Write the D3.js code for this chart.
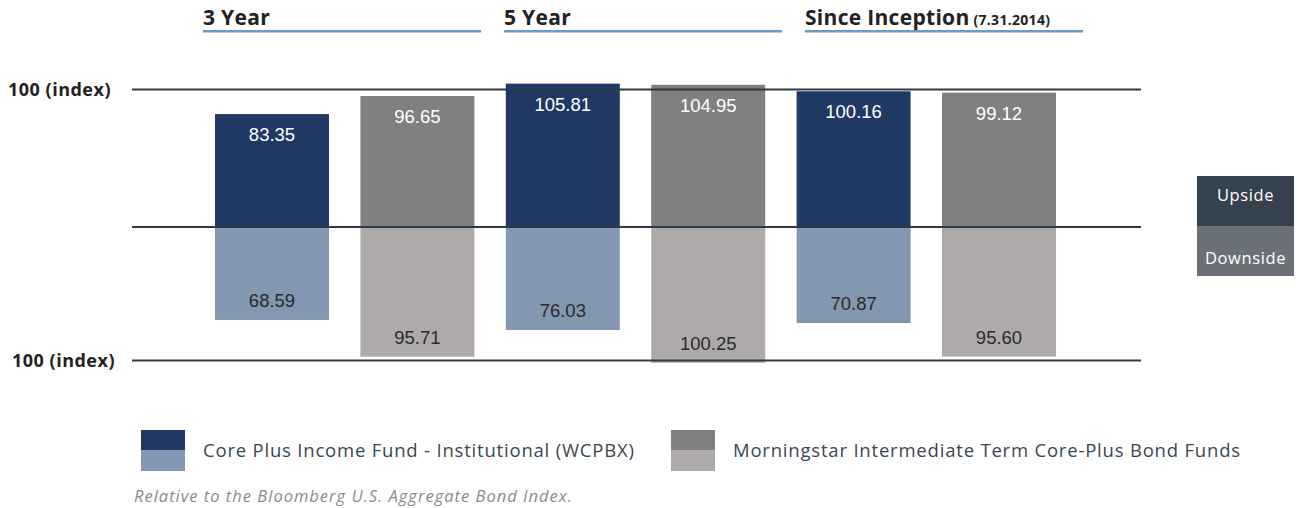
<!DOCTYPE html>
<html>
<head>
<meta charset="utf-8">
<script src="https://cdn.jsdelivr.net/npm/d3@7"></script>
<style>
  body { margin: 0; background: #fff; }
  svg { display: block; }
</style>
</head>
<body>
<svg id="chart" width="1298" height="508"></svg>
<script>
// periods and capture ratios
const periods = ['3 Year', '5 Year', 'Since Inception'];
const periodNotes = ['', '', '(7.31.2014)'];
const fundUp = [83.35, 105.81, 100.16];
const fundDown = [68.59, 76.03, 70.87];
const peerUp = [96.65, 104.95, 99.12];
const peerDown = [95.71, 100.25, 95.60];
const seriesNames = ['Core Plus Income Fund - Institutional (WCPBX)', 'Morningstar Intermediate Term Core-Plus Bond Funds'];
const refLabel = '100 (index)';

const colors = {
    fundUp: '#203864',
    fundDown: '#8497b0',
    peerUp: '#808080',
    peerDown: '#aeaaaa'
};

const svg = d3.select('#chart');
const font = '"Open Sans", Lato, sans-serif';

// one bar slot per fund/peer in each period
const bars = [];
periods.forEach((p, i) => {
    bars.push({ key: p + '-fund', up: fundUp[i], down: fundDown[i], cu: colors.fundUp, cd: colors.fundDown });
    bars.push({ key: p + '-peer', up: peerUp[i], down: peerDown[i], cu: colors.peerUp, cd: colors.peerDown });
});

const x = d3.scaleBand()
    .domain(bars.map(d => d.key))
    .range([199.3, 1071.7])
    .paddingInner(0.216)
    .paddingOuter(0.108);

const mid = 227;
const k = 1.355;
const yUp = d3.scaleLinear().domain([0, 100]).range([mid, mid - 100 * k]);
const yDown = d3.scaleLinear().domain([0, 100]).range([mid, mid + 100 * k]);

// headers
const gx = d3.scaleBand().domain(periods).range([203, 1083]).paddingInner(23 / 301);

const head = svg.selectAll('g.head')
    .data(periods)
    .join('g')
    .attr('class', 'head')
    .attr('transform', d => `translate(${gx(d)} 0)`);

head.append('text')
    .attr('y', 25)
    .attr('font-family', font)
    .attr('font-weight', 'bold')
    .attr('font-size', 21)
    .attr('letter-spacing', 0.3)
    .attr('fill', '#222')
    .text(d => d)
    .append('tspan')
    .attr('font-size', 14)
    .text((d, i) => periodNotes[i] ? ' ' + periodNotes[i] : '');

head.append('rect')
    .attr('y', 30)
    .attr('width', gx.bandwidth())
    .attr('height', 2.5)
    .attr('fill', '#6a9bcc');

// bars
const g = svg.selectAll('g.bar')
    .data(bars)
    .join('g')
    .attr('class', 'bar');

g.append('rect')
    .attr('x', d => x(d.key))
    .attr('y', d => yUp(d.up))
    .attr('width', x.bandwidth())
    .attr('height', d => yUp(0) - yUp(d.up))
    .attr('fill', d => d.cu);

g.append('rect')
    .attr('x', d => x(d.key))
    .attr('y', mid)
    .attr('width', x.bandwidth())
    .attr('height', d => yDown(d.down) - mid)
    .attr('fill', d => d.cd);

// reference lines
const lines = [yUp(100) - 2, mid, yDown(100) - 2];
svg.selectAll('line.ref')
    .data(lines)
    .join('line')
    .attr('class', 'ref')
    .attr('x1', 132)
    .attr('x2', 1141)
    .attr('y1', d => d)
    .attr('y2', d => d)
    .attr('stroke', '#2e3a47')
    .attr('stroke-width', 2);

g.append('text')
    .attr('x', d => x(d.key) + x.bandwidth() / 2)
    .attr('y', d => yUp(d.up) + 27)
    .attr('text-anchor', 'middle')
    .attr('font-family', '"Liberation Sans", sans-serif')
    .attr('font-size', 18.5)
    .attr('fill', '#fff')
    .text(d => d.up.toFixed(2));

g.append('text')
    .attr('x', d => x(d.key) + x.bandwidth() / 2)
    .attr('y', d => yDown(d.down) - 13)
    .attr('text-anchor', 'middle')
    .attr('font-family', '"Liberation Sans", sans-serif')
    .attr('font-size', 18.5)
    .attr('fill', '#2a2a2a')
    .text(d => d.down.toFixed(2));

// index labels
svg.append('text')
    .attr('x', 8).attr('y', lines[0] + 6)
    .attr('font-family', font).attr('font-weight', 'bold').attr('font-size', 18)
    .attr('letter-spacing', 0.5)
    .attr('fill', '#222').text(refLabel);

svg.append('text')
    .attr('x', 12).attr('y', lines[2] + 6)
    .attr('font-family', font).attr('font-weight', 'bold').attr('font-size', 18)
    .attr('letter-spacing', 0.5)
    .attr('fill', '#222').text(refLabel);

// upside / downside key
const key = [
    { t: 'Upside', c: '#35414c', y: 176 },
    { t: 'Downside', c: '#6a7179', y: 226 }
];
const kg = svg.selectAll('g.key')
    .data(key)
    .join('g')
    .attr('class', 'key');
kg.append('rect')
    .attr('x', 1197).attr('y', d => d.y)
    .attr('width', 97).attr('height', 50)
    .attr('fill', d => d.c);
kg.append('text')
    .attr('x', 1245.5)
    .attr('y', (d, i) => i === 0 ? d.y + 25 : d.y + 38)
    .attr('text-anchor', 'middle')
    .attr('font-family', font).attr('font-size', 16.5)
    .attr('letter-spacing', 0.6)
    .attr('fill', '#fff')
    .text(d => d.t);

// legend
const legend = [
    { x: 141, a: colors.fundUp, b: colors.fundDown, t: seriesNames[0] },
    { x: 671, a: colors.peerUp, b: colors.peerDown, t: seriesNames[1] }
];
const lg = svg.selectAll('g.legend')
    .data(legend)
    .join('g')
    .attr('class', 'legend')
    .attr('transform', d => `translate(${d.x} 430)`);
lg.append('rect').attr('width', 44).attr('height', 20).attr('fill', d => d.a);
lg.append('rect').attr('y', 20).attr('width', 44).attr('height', 21).attr('fill', d => d.b);
lg.append('text')
    .attr('x', 62).attr('y', 27)
    .attr('font-family', font).attr('font-size', 18.5)
    .attr('letter-spacing', 0.8)
    .attr('fill', '#3a4652')
    .text(d => d.t);

svg.append('text')
    .attr('x', 134).attr('y', 502)
    .attr('font-family', font).attr('font-style', 'italic').attr('font-size', 16.5)
    .attr('letter-spacing', 1)
    .attr('fill', '#8a8a8a')
    .text('Relative to the Bloomberg U.S. Aggregate Bond Index.');
</script>
</body>
</html>
